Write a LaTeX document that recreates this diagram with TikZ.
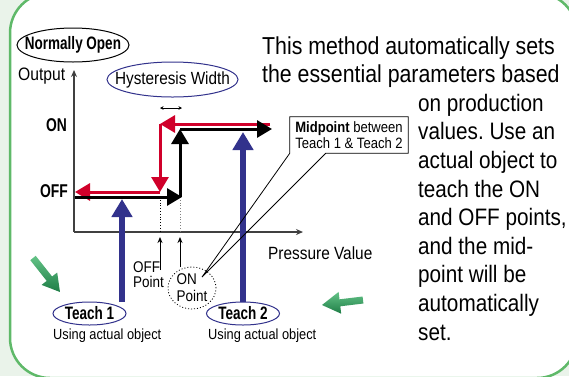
\documentclass[tikz,border=0pt]{standalone}
\usepackage{fontspec}
\setmainfont{Liberation Sans}[FakeStretch=0.87]
\newfontfamily\condb{Liberation Sans}[FakeStretch=0.75]
\usetikzlibrary{arrows.meta,shapes.geometric,calc}
\definecolor{redc}{RGB}{208,0,42}
\definecolor{bluec}{RGB}{50,50,140}
\definecolor{framec}{RGB}{95,185,105}
\definecolor{bgc}{RGB}{234,243,234}
\definecolor{gdark}{RGB}{30,125,70}
\definecolor{glight}{RGB}{100,195,135}
\newcommand{\fsz}[1]{\fontsize{#1}{#1}\selectfont}
\frenchspacing
\begin{document}
\begin{tikzpicture}[x=1pt,y=-1pt,
  redline/.style={draw=redc, line width=3pt, -{Triangle[length=15pt,width=17pt]}},
  blkline/.style={draw=black, line width=3pt, -{Triangle[length=15pt,width=17pt]}},
  bluearr/.style={draw=bluec, line width=5.5pt, -{Triangle[length=18pt,width=20pt]}},
  axisline/.style={draw=black!75, line width=1.2pt, -{Stealth[length=7pt,width=6pt]}},
  smallarr/.style={draw=black, line width=0.9pt, -{Stealth[length=6pt,width=5pt]}},
  ellnode/.style={ellipse, inner sep=0pt, fill=white, line width=1pt},
  btxt/.style={font=\condb\bfseries\fsz{18}},
  plain/.style={anchor=base west, inner sep=0pt},
  mtext/.style={anchor=base west, inner sep=0pt, font=\fsz{24.5}},
  ctext/.style={anchor=base west, inner sep=0pt, font=\fsz{23.8}},
  garrow/.style={top color=glight, bottom color=gdark, draw=none}
]
\useasboundingbox (0,0) rectangle (569,376);
\fill[bgc] (0,0) rectangle (569,376);
\draw[framec, line width=2.5pt, fill=white, rounded corners=40pt] (10,-7) rectangle (577,378);

% axes
\coordinate (O) at (74,232);
\coordinate (ytop) at (74,70);
\coordinate (xend) at (303,232);
\draw[axisline] (O) -- (ytop);
\draw[axisline] (O) -- (xend);

% dotted guides
\coordinate (d1t) at (160,197);
\coordinate (d1b) at (160,232);
\coordinate (d2t) at (180,197);
\coordinate (d2b) at (180,232);
\draw[dotted, line width=0.8pt] (d1t) -- (d1b);
\draw[dotted, line width=0.8pt, draw=black!50] (d2t) -- (d2b);

% red path (falling)
\coordinate (r1) at (270,124);
\coordinate (r2) at (160,124);
\coordinate (r3) at (160,192);
\coordinate (r4) at (75,192);
\draw[redline] (r1) -- (r2);
\draw[redline] (r2) -- (r3);
\draw[redline] (r3) -- (r4);

% black path (rising)
\coordinate (b1) at (75,197);
\coordinate (b2) at (182,197);
\coordinate (b3) at (180,197);
\coordinate (b4) at (180,129);
\coordinate (b5) at (272,129);
\draw[blkline] (b1) -- (b2);
\draw[blkline] (b3) -- (b4);
\draw[blkline] (b4) -- (b5);

% hysteresis width marker
\coordinate (hl) at (160,108);
\coordinate (hr) at (182,108);
\draw[line width=0.6pt, {Stealth[length=3.5pt,width=3.5pt]}-{Stealth[length=3.5pt,width=3.5pt]}] (hl) -- (hr);

% labels
\node[ellnode, draw=black, minimum width=112pt, minimum height=34pt,
      label={[btxt]center:Normally Open}] (no) at (73,45) {};
\node[ellnode, draw=bluec, minimum width=131pt, minimum height=35pt,
      label={[font=\fsz{17.6}]center:Hysteresis Width}] (hw) at (172.5,79.5) {};
\node[plain, font=\fsz{18}] (out) at (18,80) {Output};
\node[plain, font=\condb\bfseries\fsz{18.5}] (on) at (46,131) {ON};
\node[plain, font=\condb\bfseries\fsz{18.5}] (off) at (40,197) {OFF};
\node[plain, font=\fsz{17.7}] (pv) at (268,259) {Pressure Value};

% OFF point / ON point
\coordinate (a1b) at (160,270);
\coordinate (a1t) at (160,237);
\coordinate (a2b) at (180,267);
\coordinate (a2t) at (180,237);
\draw[smallarr] (a1b) -- (a1t);
\draw[smallarr] (a2b) -- (a2t);
\node[anchor=north west, inner sep=0pt, align=left, font=\fontsize{15.5}{15.3}\selectfont] (offp) at (133,261) {OFF\\Point};
\node[ellnode, draw=black, dotted, line width=0.8pt, minimum width=48pt, minimum height=42pt,
      label={[align=left, font=\fontsize{15.5}{16.7}\selectfont]center:ON\\Point}] (onp) at (192,288) {};

% teach labels
\node[ellnode, draw=bluec, minimum width=73pt, minimum height=23pt,
      label={[btxt]center:Teach 1}] (t1) at (89.5,313.5) {};
\node[ellnode, draw=bluec, minimum width=73pt, minimum height=23pt,
      label={[btxt]center:Teach 2}] (t2) at (243,313.5) {};
\node[plain, font=\fsz{14.7}] (u1) at (53,339) {Using actual object};
\node[plain, font=\fsz{14.7}] (u2) at (208,339) {Using actual object};

% blue teach arrows
\coordinate (t1tip) at (122,199);
\coordinate (t2tip) at (243,132);
\draw[bluearr] (t1.north -| t1tip) -- (t1tip);
\draw[bluearr] (t2.north) -- (t2tip);

% midpoint callout
\coordinate (cp) at (202,277);
\node[inner sep=0pt, minimum width=118pt, minimum height=36pt, align=left,
      font=\fontsize{15}{16}\selectfont] (mb) at (349,135) {\textbf{Midpoint} between\\Teach 1 \& Teach 2};
\draw[line width=0.8pt, line join=miter] ([xshift=36pt]mb.south west) -- (mb.south east) -- (mb.north east) -- (mb.north west) -- (mb.south west) -- (cp) -- cycle;

% main text
\node[mtext] (m1) at (262,54) {This method automatically sets};
\node[mtext] (m2) at (262,82.6) {the essential parameters based};
\node[ctext] (m3) at (418,111.2) {on production};
\node[ctext] (m4) at (418,139.8) {values. Use an};
\node[ctext] (m5) at (418,168.4) {actual object to};
\node[ctext] (m6) at (418,197) {teach the ON};
\node[ctext] (m7) at (418,225.6) {and OFF points,};
\node[ctext] (m8) at (418,254.2) {and the mid-};
\node[ctext] (m9) at (418,282.8) {point will be};
\node[ctext] (m10) at (418,311.4) {automatically};
\node[ctext] (m11) at (418,340) {set.};

% green pointer arrows
\shade[garrow] (30.3,260.2) -- (46.7,280.9) -- (41.6,284.9) -- (60,292) -- (57.2,272.5) -- (52.1,276.5) -- (35.7,255.8) -- cycle;
\shade[garrow] (362.6,296.5) -- (339.5,299.3) -- (338.6,291.9) -- (322,305) -- (341.2,313.7) -- (340.3,306.3) -- (363.4,303.5) -- cycle;
\end{tikzpicture}
\end{document}
